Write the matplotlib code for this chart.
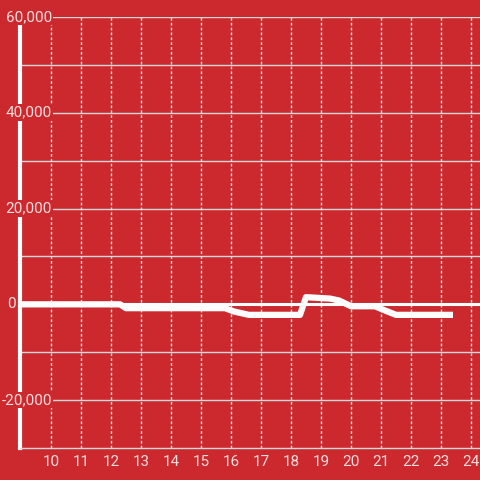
import matplotlib
matplotlib.use("Agg")
import matplotlib.pyplot as plt

# data
x_vals = [8.9, 12.3, 12.5, 15.8, 16.1, 16.6, 18.3, 18.5, 19.3, 19.6, 20.0, 20.8, 21.1, 21.5, 23.4]
y_vals = [0, 0, -800, -800, -1500, -2200, -2200, 1500, 1200, 800, -400, -400, -1200, -2200, -2200]
x_ticks = list(range(10, 25))
y_ticks = [-20000, 0, 20000, 40000, 60000]

bg = "#cc292e"
txt = "#f3dede"

plt.rcParams['font.family'] = ['Roboto', 'DejaVu Sans']

fig = plt.figure(figsize=(4.8, 4.8), dpi=100)
fig.patch.set_facecolor(bg)
ax = fig.add_axes([20/480, 32/480, 460/480, 431/480])
ax.set_facecolor(bg)

ax.set_xlim(8.967, 24.3)
ax.set_ylim(-30000, 60000)

# horizontal grid every 10000
for yv in range(-20000, 60001, 10000):
    if yv == 0:
        continue
    ax.axhline(yv, color="#d8d8d8", lw=1, zorder=1)
# vertical dotted grid
for xv in x_ticks:
    ax.axvline(xv, color="#e6e6e6", lw=1, ls=(0, (2, 1.5)), zorder=1)

ax.axhline(0, color="white", lw=2.2, zorder=2)

for s in ["top", "right"]:
    ax.spines[s].set_visible(False)
ax.spines["left"].set_color("white")
ax.spines["left"].set_linewidth(3)
ax.spines["left"].set_bounds(-30000, 58500)
ax.spines["bottom"].set_color("#d8d8d8")
ax.spines["bottom"].set_linewidth(1)

ax.set_xticks(x_ticks)
ax.set_xticklabels([str(t) for t in x_ticks])
ax.tick_params(axis="x", length=0, pad=5, colors=txt, labelsize=11)

ax.set_yticks(y_ticks)
ax.set_yticklabels([])
ax.tick_params(axis="y", length=0)
for yv in y_ticks:
    xpos = 8.83 if yv == 0 else 10.03
    ax.text(xpos, yv, "{:,}".format(yv), ha="right", va="center", color=txt,
            fontsize=11, zorder=5, clip_on=False,
            bbox=dict(facecolor=bg, edgecolor="none", pad=1.0))

ax.plot(x_vals, y_vals, color="white", lw=4.5, solid_capstyle="butt",
        solid_joinstyle="round", zorder=6, clip_on=False)

fig.savefig("out.png", dpi=100, facecolor=bg)
